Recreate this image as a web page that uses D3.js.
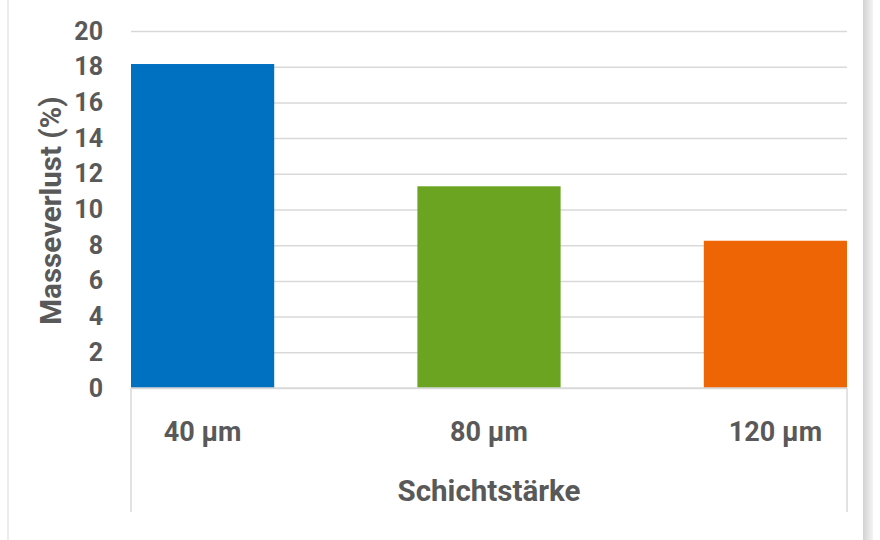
<!DOCTYPE html>
<html>
<head>
<meta charset="utf-8">
<script src="https://cdn.jsdelivr.net/npm/d3@7"></script>
<style>
  body { margin: 0; background: #fff; }
  svg text { font-family: Roboto, "Open Sans", sans-serif; font-weight: 700; fill: #595959; }
</style>
</head>
<body>
<div class="c_chart"></div>
<script>
// data
const categories = ["40 µm", "80 µm", "120 µm"];
const values = [18.15, 11.3, 8.25];
const barColors = ["#0070C0", "#6AA421", "#EE6506"];
const yTicks = [0, 2, 4, 6, 8, 10, 12, 14, 16, 18, 20];
const yTitle = "Masseverlust (%)";
const xTitle = "Schichtstärke";

const width = 880, height = 540;
const plot = {left: 131, right: 847, top: 31, bottom: 388};

let svg = d3.select(".c_chart").append("svg")
  .attr("width", width)
  .attr("height", height);

// frame (left line, right shadowed edge)
svg.append("line")
  .attr("x1", 8).attr("x2", 8).attr("y1", 0).attr("y2", height)
  .attr("stroke", "#ececec").attr("stroke-width", 2);
let grad = svg.append("defs").append("linearGradient").attr("id", "edge");
grad.append("stop").attr("offset", "0%").attr("stop-color", "#d2d2d2");
grad.append("stop").attr("offset", "100%").attr("stop-color", "#f4f4f4");
svg.append("rect")
  .attr("x", 863).attr("y", 0).attr("width", 10).attr("height", height)
  .attr("fill", "url(#edge)");

// scales
let x = d3.scaleBand()
  .domain(categories)
  .range([plot.left, plot.right])
  .paddingInner(0.5)
  .paddingOuter(0);

let y = d3.scaleLinear()
  .domain([0, 20])
  .range([plot.bottom, plot.top]);

// gridlines + tick labels
let yAxis = svg.append("g")
  .attr("transform", `translate(${plot.left},0)`)
  .call(d3.axisLeft(y).tickValues(yTicks).tickSize(-(plot.right - plot.left)).tickPadding(28));
yAxis.select(".domain").remove();
yAxis.selectAll(".tick line").attr("stroke", "#d9d9d9").attr("stroke-width", 1.5);
yAxis.selectAll(".tick text")
  .attr("font-size", 25)
  .attr("fill", "#595959");
yAxis.attr("font-family", null).attr("font-size", null);

// bars
svg.selectAll(".bar")
  .data(values)
  .enter()
  .append("rect")
  .attr("class", "bar")
  .attr("x", (d, i) => x(categories[i]))
  .attr("width", x.bandwidth())
  .attr("y", d => y(d))
  .attr("height", d => y(0) - y(d))
  .attr("fill", (d, i) => barColors[i]);

// category axis lines
svg.append("line")
  .attr("x1", plot.left).attr("x2", plot.right)
  .attr("y1", y(0)).attr("y2", y(0))
  .attr("stroke", "#d9d9d9").attr("stroke-width", 1.5);
[plot.left, plot.right].forEach(px => {
  svg.append("line")
    .attr("x1", px).attr("x2", px)
    .attr("y1", y(0)).attr("y2", 512)
    .attr("stroke", "#d9d9d9").attr("stroke-width", 1.5);
});

// category labels
svg.selectAll(".cat")
  .data(categories)
  .enter()
  .append("text")
  .attr("class", "cat")
  .attr("x", d => x(d) + x.bandwidth() / 2)
  .attr("y", 441)
  .attr("text-anchor", "middle")
  .attr("font-size", 27)
  .text(d => d);

// axis titles
svg.append("text")
  .attr("x", (plot.left + plot.right) / 2)
  .attr("y", 501)
  .attr("text-anchor", "middle")
  .attr("font-size", 29.5)
  .text(xTitle);

svg.append("text")
  .attr("transform", `translate(61,${(plot.top + plot.bottom) / 2 + 1}) rotate(-90)`)
  .attr("text-anchor", "middle")
  .attr("font-size", 29.5)
  .text(yTitle);
</script>
</body>
</html>
